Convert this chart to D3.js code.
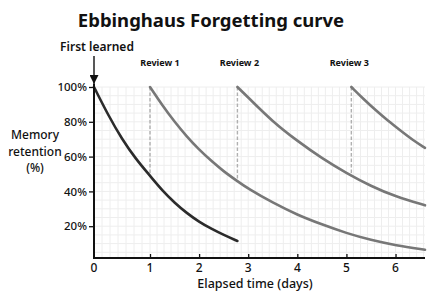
<!DOCTYPE html>
<html><head>
<meta charset="utf-8">
<script src="https://d3js.org/d3.v7.min.js"></script>
<style>
  body { margin: 0; background: #fff; }
  svg text { font-family: "Noto Sans", "DejaVu Sans", sans-serif; fill: #111; }
</style>
</head>
<body>
<svg id="plot" width="444" height="296"></svg>
<script>
  // ----- data -----
  // days since first learning, retention in %
  const firstDays  = [0, 0.25, 0.5, 0.75, 1, 1.25, 1.5, 1.75, 2, 2.25, 2.5, 2.78];
  const firstVals  = [100, 84, 70, 58.5, 49, 40.5, 33.5, 27.5, 22.5, 18.5, 15, 11.5];

  const review1Days = [1, 1.25, 1.5, 1.75, 2, 2.25, 2.5, 2.75, 3, 3.5, 4, 4.5, 5, 5.5, 6, 6.6];
  const review1Vals = [100, 89.5, 80, 71.5, 64, 57.5, 51.5, 46.5, 41.5, 33.5, 26.5, 21, 16, 12, 9, 6.5];

  const review2Days = [2.78, 3, 3.5, 4, 4.5, 5, 5.5, 6, 6.6];
  const review2Vals = [100, 94, 80, 69, 59, 50.5, 43, 37, 32];

  const review3Days = [5.1, 5.35, 5.6, 5.85, 6.1, 6.35, 6.6];
  const review3Vals = [100, 93, 86.5, 80.5, 75, 69.5, 65];

  const reviewLabels = ["Review 1", "Review 2", "Review 3"];
  const reviewDays   = [1, 2.78, 5.1];
  const reviewFrom   = [49, 46.5, 48.5];   // retention just before each review

  const xTicks = [0, 1, 2, 3, 4, 5, 6];
  const yTicks = [20, 40, 60, 80, 100];

  const svg = d3.select("svg#plot");

  // the day axis in the picture is not quite even between 0 and 1
  const x = d3.scaleLinear().domain([0, 1, 6.6]).range([94, 150, 425]);
  const y = d3.scaleLinear().domain([0, 100]).range([261, 87]);
  const axisY = 258;

  // faint grid
  let grid = svg.append("g").attr("stroke", "#eeeeee").attr("stroke-width", 1);
  grid.selectAll("line.v").data(d3.range(1/7, 6.6, 1/7)).join("line")
      .attr("x1", d => x(d)).attr("x2", d => x(d))
      .attr("y1", y(100)).attr("y2", axisY);
  grid.selectAll("line.h").data(d3.range(5, 101, 5)).join("line")
      .attr("x1", x(0)).attr("x2", x(6.6))
      .attr("y1", d => y(d)).attr("y2", d => y(d));

  // dashed review markers
  svg.append("g").selectAll("line").data(reviewDays).join("line")
     .attr("x1", d => x(d)).attr("x2", d => x(d))
     .attr("y1", y(100)).attr("y2", (d, i) => y(reviewFrom[i]))
     .attr("stroke", "#b0b0b0").attr("stroke-width", 1.4)
     .attr("stroke-dasharray", "3.5,2");

  const line = d3.line().x(d => x(d[0])).y(d => y(d[1])).curve(d3.curveBasis);
  const series = [
    {days: review1Days, vals: review1Vals, color: "#777777"},
    {days: review2Days, vals: review2Vals, color: "#777777"},
    {days: review3Days, vals: review3Vals, color: "#777777"},
    {days: firstDays,   vals: firstVals,   color: "#2b2b2b"}
  ];
  svg.append("g").selectAll("path").data(series).join("path")
     .attr("d", s => line(d3.zip(s.days, s.vals)))
     .attr("fill", "none")
     .attr("stroke", s => s.color)
     .attr("stroke-width", 2.6)
     .attr("stroke-linecap", "round");

  // axes
  let yAxis = svg.append("g").attr("transform", "translate(" + x(0) + ",0)")
     .call(d3.axisLeft(y).tickValues(yTicks).tickFormat(d => d + "%").tickSize(5).tickPadding(2));
  yAxis.select(".domain").remove();
  yAxis.selectAll("line").attr("stroke", "#111").attr("stroke-width", 1.3);
  yAxis.selectAll("text").attr("font-size", 11.5).attr("font-weight", 500).attr("fill", "#111");

  let xAxis = svg.append("g").attr("transform", "translate(0," + axisY + ")")
     .call(d3.axisTop(x).tickValues(xTicks).tickSize(4).tickFormat(""));
  xAxis.select(".domain").remove();
  xAxis.selectAll("line").attr("stroke", "#111").attr("stroke-width", 1.3);
  xAxis.selectAll("line").filter(d => d === 0).remove();

  svg.append("g").selectAll("text").data(xTicks).join("text")
     .attr("x", d => x(d)).attr("y", axisY + 14)
     .attr("text-anchor", "middle").attr("font-size", 12).attr("font-weight", 500)
     .text(d => d);

  svg.append("line").attr("x1", x(0)).attr("x2", x(0)).attr("y1", y(100) - 3).attr("y2", axisY + 1)
     .attr("stroke", "#111").attr("stroke-width", 2);
  svg.append("line").attr("x1", x(0) - 1).attr("x2", x(6.6)).attr("y1", axisY).attr("y2", axisY)
     .attr("stroke", "#111").attr("stroke-width", 2);

  // titles and labels
  svg.append("text").attr("x", 211).attr("y", 27).attr("text-anchor", "middle")
     .attr("font-size", 18.5).attr("font-weight", 700).text("Ebbinghaus Forgetting curve");

  svg.append("text").attr("x", 255).attr("y", 288).attr("text-anchor", "middle")
     .attr("font-size", 12.5).attr("font-weight", 500).text("Elapsed time (days)");

  svg.append("text").attr("x", 35).attr("y", 139).attr("text-anchor", "middle")
     .attr("font-size", 12).attr("font-weight", 500)
     .selectAll("tspan").data(["Memory", "retention", "(%)"]).join("tspan")
     .attr("x", 35).attr("dy", (d, i) => i === 0 ? 0 : 16.5).text(d => d);

  svg.append("text").attr("x", 97).attr("y", 51).attr("text-anchor", "middle")
     .attr("font-size", 12).attr("font-weight", 600).text("First learned");

  svg.append("defs").append("marker").attr("id", "arrow")
     .attr("viewBox", "0 0 10 10").attr("refX", 10).attr("refY", 5)
     .attr("markerWidth", 9).attr("markerHeight", 9).attr("markerUnits", "userSpaceOnUse")
     .attr("orient", "auto")
     .append("path").attr("d", "M0,0L10,5L0,10Z").attr("fill", "#111");
  svg.append("line").attr("x1", x(0)).attr("x2", x(0)).attr("y1", 56).attr("y2", 84)
     .attr("stroke", "#111").attr("stroke-width", 1.4).attr("marker-end", "url(#arrow)");

  const labelShift = [10, 2, -2];
  svg.append("g").selectAll("text").data(reviewLabels).join("text")
     .attr("x", (d, i) => x(reviewDays[i]) + labelShift[i]).attr("y", 66)
     .attr("text-anchor", "middle").attr("font-size", 9).attr("font-weight", 700)
     .text(d => d);
</script>
</body>
</html>
